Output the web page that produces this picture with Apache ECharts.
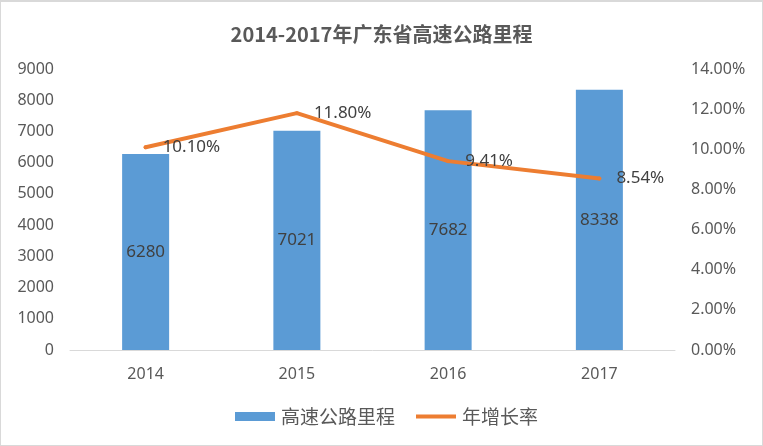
<!DOCTYPE html>
<html>
<head>
<meta charset="utf-8">
<script src="https://cdn.jsdelivr.net/npm/echarts@6/dist/echarts.min.js"></script>
<style>
html,body{margin:0;padding:0;background:#fff;}
#frame{width:763px;height:446px;box-sizing:border-box;border:1px solid #d9d9d9;border-top-width:2px;}
#chart{width:100%;height:100%;}
</style>
</head>
<body>
<div id="frame"><div id="chart"></div></div>
<script>
const categories = ['2014', '2015', '2016', '2017'];
const mileage = [6280, 7021, 7682, 8338];
const growthRate = [10.10, 11.80, 9.41, 8.54];
const titleText = '2014-2017年广东省高速公路里程';
const barName = '高速公路里程';
const lineName = '年增长率';

const font = "'Noto Sans', 'Noto Sans CJK SC', sans-serif";
const chart = echarts.init(document.getElementById('chart'));
chart.setOption({
  animation: false,
  textStyle: { fontFamily: font },
  title: {
    text: titleText,
    left: 'center',
    top: 17,
    textStyle: { fontSize: 20, fontWeight: 'bold', color: '#595959', fontFamily: "'Noto Sans CJK SC', sans-serif" }
  },
  legend: {
    left: 229,
    top: 400,
    itemWidth: 40,
    itemHeight: 9,
    itemGap: 21,
    textStyle: { fontSize: 19, color: '#595959', fontFamily: "'Noto Sans CJK SC', sans-serif", padding: [0, 0, 0, 1] },
    data: [
      { name: barName, icon: 'rect' },
      { name: lineName, icon: 'path://M0,0 L40,0 L40,4 L0,4 Z', itemStyle: { color: '#ED7D31' } }
    ]
  },
  grid: { left: 69, right: 87, top: 67, bottom: 95, containLabel: false },
  xAxis: {
    type: 'category',
    data: categories,
    axisLine: { lineStyle: { color: '#d9d9d9', width: 1 } },
    axisTick: { show: false },
    axisLabel: { color: '#595959', fontSize: 16, margin: 16 }
  },
  yAxis: [
    {
      type: 'value', min: 0, max: 9000, interval: 1000,
      axisLine: { show: false }, axisTick: { show: false }, splitLine: { show: false },
      axisLabel: { color: '#595959', fontSize: 16, margin: 16, formatter: v => String(v) }
    },
    {
      type: 'value', min: 0, max: 14, interval: 2,
      axisLine: { show: false }, axisTick: { show: false }, splitLine: { show: false },
      axisLabel: { color: '#595959', fontSize: 16, margin: 16, formatter: v => v.toFixed(2) + '%' }
    }
  ],
  series: [
    {
      name: barName,
      type: 'bar',
      data: mileage,
      barWidth: 47,
      itemStyle: { color: '#5B9BD5' },
      label: { show: true, position: 'inside', color: '#404040', fontSize: 17 }
    },
    {
      name: lineName,
      type: 'line',
      yAxisIndex: 1,
      data: growthRate,
      smooth: false,
      symbol: 'circle',
      symbolSize: 4,
      showSymbol: true,
      lineStyle: { color: '#ED7D31', width: 4, cap: 'round', join: 'round' },
      itemStyle: { color: '#ED7D31' },
      label: { show: true, position: 'right', distance: 15, color: '#404040', fontSize: 17, formatter: p => p.value.toFixed(2) + '%' }
    }
  ]
});
</script>
</body>
</html>
